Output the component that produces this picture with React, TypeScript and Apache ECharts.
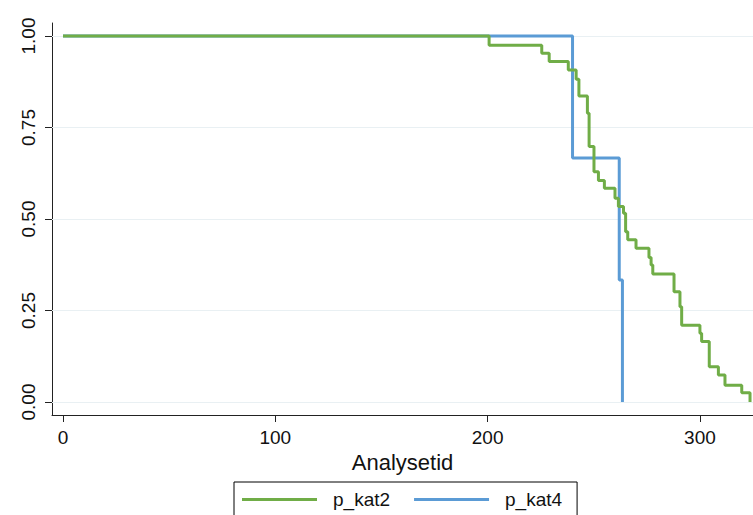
import React, { useEffect, useRef } from "react";
import * as echarts from "echarts";

// Kaplan-Meier style step data
const kat2Times = [0, 200.7, 225.5, 229, 238, 241.7, 243, 247, 247.8, 250.1, 252.2, 255, 260, 261.6, 264, 265, 266, 269.9, 276, 277, 277.8, 287.8, 290.6, 291.4, 300, 300.8, 304.4, 308.7, 311.8, 319.7, 323.6];
const kat2Values = [1.0, 0.975, 0.953, 0.93, 0.907, 0.882, 0.836, 0.789, 0.698, 0.629, 0.605, 0.584, 0.557, 0.534, 0.516, 0.465, 0.443, 0.42, 0.395, 0.374, 0.35, 0.301, 0.26, 0.21, 0.188, 0.165, 0.096, 0.074, 0.046, 0.025, 0.0];

const kat4Times = [0, 240, 262, 263.5];
const kat4Values = [1.0, 0.667, 0.333, 0.0];

const yTicks = [0, 0.25, 0.5, 0.75, 1];
const xTicks = [0, 100, 200, 300];
const seriesNames = ["p_kat2", "p_kat4"];
const xAxisTitle = "Analysetid";

const FONT = "'Liberation Sans', Arial, sans-serif";

export default function App() {
  const ref = useRef<HTMLDivElement>(null);
  useEffect(() => {
    if (!ref.current) return;
    const chart = echarts.init(ref.current, null, { renderer: "svg" });
    const green = kat2Times.map((t, i) => [t, kat2Values[i]]);
    const blue = kat4Times.map((t, i) => [t, kat4Values[i]]);
    chart.setOption({
      animation: false,
      backgroundColor: "#ffffff",
      grid: { left: 52, right: 0, top: 23, bottom: 100, containLabel: false },
      legend: {
        data: seriesNames,
        left: 234,
        top: 482,
        orient: "horizontal",
        icon: "rect",
        itemWidth: 75,
        itemHeight: 3,
        itemGap: 24,
        borderColor: "#000",
        borderWidth: 1,
        padding: [8, 15, 30, 8],
        textStyle: { fontSize: 19, fontFamily: FONT, color: "#111", padding: [0, 0, 0, 11] },
      },
      xAxis: {
        type: "value",
        min: -5.18,
        max: 325,
        name: xAxisTitle,
        nameLocation: "middle",
        nameGap: 28,
        nameTextStyle: { fontSize: 22, fontFamily: FONT, color: "#111" },
        axisLine: { show: true, onZero: false, lineStyle: { color: "#222", width: 1 } },
        axisTick: { show: true, length: 7, customValues: xTicks, lineStyle: { color: "#222" } },
        axisLabel: { customValues: xTicks, fontSize: 19, fontFamily: FONT, color: "#111", margin: 13 },
        splitLine: { show: false },
      },
      yAxis: {
        type: "value",
        min: -0.0355,
        max: 1.0355,
        axisLine: { show: true, onZero: false, lineStyle: { color: "#222", width: 1 } },
        axisTick: { show: true, length: 7, customValues: yTicks, lineStyle: { color: "#222" } },
        axisLabel: {
          customValues: yTicks,
          rotate: 90,
          fontSize: 19,
          fontFamily: FONT,
          color: "#111",
          margin: 14,
          formatter: (v: number) => v.toFixed(2),
        },
        splitLine: { show: false },
      },
      series: [
        {
          name: "grid",
          type: "line",
          data: [],
          z: 1,
          silent: true,
          markLine: {
            z: 1,
            silent: true,
            symbol: "none",
            label: { show: false },
            lineStyle: { color: "#e9f0f3", width: 1, type: "solid" },
            data: yTicks.map((v) => ({ yAxis: v })),
          },
        },
        {
          name: seriesNames[1],
          type: "line",
          step: "end",
          data: blue,
          showSymbol: false,
          z: 2,
          color: "#5b9bd5",
          lineStyle: { color: "#5b9bd5", width: 3 },
        },
        {
          name: seriesNames[0],
          type: "line",
          step: "end",
          data: green,
          showSymbol: false,
          z: 3,
          color: "#70ad47",
          lineStyle: { color: "#70ad47", width: 3 },
        },
      ],
    });
    return () => chart.dispose();
  }, []);
  return (
    <div
      ref={ref}
      style={{ position: "absolute", left: 0, top: 0, width: 753, height: 515 }}
    />
  );
}
